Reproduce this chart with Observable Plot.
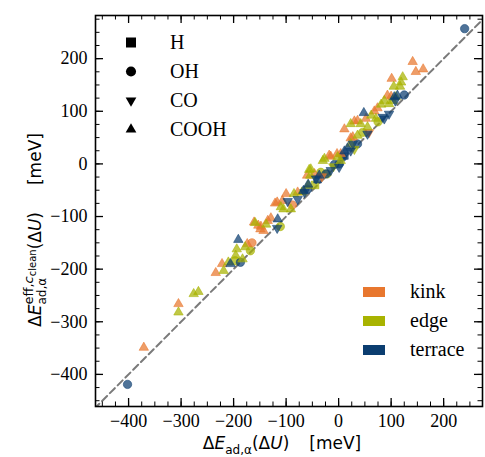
<!DOCTYPE html>
<html><head><meta charset="utf-8">
<script src="https://cdn.jsdelivr.net/npm/d3@7"></script>
<script src="https://cdn.jsdelivr.net/npm/@observablehq/plot@0.6"></script>
<style>body{margin:0;background:#fff}</style>
</head><body><div id="chart"></div>
<script>
// ---- categories ----
const sites = ["kink", "edge", "terrace"];
const adsorbates = ["H", "OH", "CO", "COOH"];

// ---- tick labels ----
const xMajor = [-400, -300, -200, -100, 0, 100, 200];
const yMajor = [-400, -300, -200, -100, 0, 100, 200];
const xMinor = d3.range(-450, 275, 25);
const yMinor = d3.range(-450, 281, 25);
const xDomain = [-463, 274];
const yDomain = [-461, 282];
const diagonal = [-480, 300];

// ---- series values [ΔE_ad(ΔU), ΔE_eff(ΔU)] in meV ----
const kinkCOOH = [[141,194],[147,175],[161,180],[101,162],[100,128],[93,130],[30,81],[11,66],[52,86],[68,100],[74,106],[36,82],[23,49],[27,51],[-15,14],[-18,16],[-3,19],[4,19],[-60,-22],[-46,-19],[-78,-54],[-100,-57],[-107,-70],[-117,-73],[-121,-75],[-129,-103],[-135,-108],[-148,-119],[-143,-127],[-149,-124],[-153,-117],[-161,-111],[-174,-152],[-222,-190],[-234,-207],[-305,-266],[-371,-349]];
const kinkOH = [[-165,-150],[-88,-78]];
const kinkCO = [[-32,-24],[58,60]];
const edgeCOOH = [[122,165],[119,155],[117,147],[105,147],[103,120],[96,114],[109,127],[81,113],[87,120],[62,92],[71,86],[55,70],[42,76],[23,76],[36,54],[23,38],[-2,13],[4,6],[-27,10],[-30,6],[-53,-10],[-56,-11],[-54,-22],[-58,-41],[-70,-54],[-85,-57],[-91,-86],[-105,-86],[-110,-82],[-138,-115],[-159,-112],[-178,-158],[-194,-162],[-196,-174],[-183,-181],[-210,-187],[-219,-203],[-276,-247],[-267,-243],[-305,-282]];
const edgeOH = [[46,60],[-34,-16],[-111,-119],[-168,-165],[-197,-184],[-22,-19],[75,80]];
const edgeCO = [[-10,-5],[30,28]];
const edgeH = [[-45,-40]];
const terraceCOOH = [[48,97],[112,130],[106,127],[-191,-144],[-206,-190],[-67,-51],[-116,-105],[-58,-39],[-37,-22],[17,30],[11,24]];
const terraceCO = [[84,89],[96,95],[108,120],[-97,-71],[-78,-67],[-117,-122],[55,57],[87,86],[-65,-54],[-43,-28],[27,38],[-15,-12],[1,-6],[23,25]];
const terraceOH = [[240,257],[-402,-419],[125,131],[-187,-187],[1,0],[-24,-19],[-59,-48],[36,38],[-8,-1],[8,13]];
const terraceH = [[-40,-29],[11,16]];

const seriesList = [
  ["kink","COOH",kinkCOOH],["kink","OH",kinkOH],["kink","CO",kinkCO],
  ["edge","COOH",edgeCOOH],["edge","OH",edgeOH],["edge","CO",edgeCO],["edge","H",edgeH],
  ["terrace","COOH",terraceCOOH],["terrace","CO",terraceCO],["terrace","OH",terraceOH],["terrace","H",terraceH]
];
const points = [];
for (const [site, ads, arr] of seriesList) for (const [x, y] of arr) points.push({x, y, site, ads});

// ---- styles ----
const siteColors = ["#E8772E", "#A8B300", "#0B3D70"];
const serif = "Times New Roman";
const triangleDown = {
  draw(ctx, size) {
    const s3 = Math.sqrt(3), y = -Math.sqrt(size / (3 * s3));
    ctx.moveTo(0, -2 * y); ctx.lineTo(s3 * y, y); ctx.lineTo(-s3 * y, y); ctx.closePath();
  }
};
const symbolRange = [d3.symbolSquare, d3.symbolCircle, triangleDown, d3.symbolTriangle];
const markerR = {H: 4.3, OH: 4.2, CO: 3.5, COOH: 3.5};
const fmt = d => d < 0 ? "\u2212" + Math.abs(d) : String(d);

const W = 485, H = 457, mT = 15, mR = 3, mB = 51, mL = 95;
const iw = W - mL - mR, ih = H - mT - mB;

const chart = Plot.plot({
  width: W, height: H,
  marginTop: mT, marginRight: mR, marginBottom: mB, marginLeft: mL,
  style: {background: "#fff", color: "#000"},
  x: {domain: xDomain, axis: null},
  y: {domain: yDomain, axis: null},
  r: {type: "identity"},
  color: {domain: sites, range: siteColors},
  symbol: {domain: adsorbates, range: symbolRange},
  marks: [
    Plot.line(diagonal.map(v => ({x: v, y: v})), {x: "x", y: "y", stroke: "#7a7a7a", strokeWidth: 2, strokeDasharray: "7,4", clip: true}),
    Plot.dot(points, {x: "x", y: "y", symbol: "ads", fill: "site", stroke: "site", r: d => markerR[d.ads],
      fillOpacity: 0.72, strokeOpacity: 0.9, strokeWidth: 0.6}),
    Plot.ruleX(xMajor, {insetTop: ih - 8, stroke: "#000", strokeWidth: 1.3}),
    Plot.ruleX(xMajor, {insetBottom: ih - 8, stroke: "#000", strokeWidth: 1.3}),
    Plot.ruleX(xMinor, {insetTop: ih - 4.5, stroke: "#000", strokeWidth: 1}),
    Plot.ruleX(xMinor, {insetBottom: ih - 4.5, stroke: "#000", strokeWidth: 1}),
    Plot.ruleY(yMajor, {insetRight: iw - 8, stroke: "#000", strokeWidth: 1.3}),
    Plot.ruleY(yMajor, {insetLeft: iw - 8, stroke: "#000", strokeWidth: 1.3}),
    Plot.ruleY(yMinor, {insetRight: iw - 4.5, stroke: "#000", strokeWidth: 1}),
    Plot.ruleY(yMinor, {insetLeft: iw - 4.5, stroke: "#000", strokeWidth: 1}),
    Plot.text(xMajor, {x: d => d, frameAnchor: "bottom", dy: 15, text: fmt, fontFamily: serif, fontSize: 18, fill: "#000", lineAnchor: "middle"}),
    Plot.text(yMajor, {y: d => d, frameAnchor: "left", dx: -8, text: fmt, textAnchor: "end", fontFamily: serif, fontSize: 18, fill: "#000"}),
    Plot.frame({stroke: "#000", strokeWidth: 1.6})
  ]
});
document.getElementById("chart").appendChild(chart);

const svg = d3.select(chart);

// ---- legends ----
const legSym = {H: [d3.symbolSquare, 100], OH: [d3.symbolCircle, 80], CO: [triangleDown, 50], COOH: [d3.symbolTriangle, 50]};
adsorbates.forEach((a, i) => {
  const cy = 42.5 + i * 29;
  svg.append("path").attr("transform", `translate(131,${cy})`)
    .attr("d", d3.symbol(legSym[a][0], legSym[a][1])()).attr("fill", "#000");
  svg.append("text").attr("x", 170).attr("y", cy + 6.5).attr("text-anchor", "start")
    .attr("font-family", serif).attr("font-size", 20).attr("fill", "#000").text(a);
});
sites.forEach((s, i) => {
  const cy = 292 + i * 29;
  svg.append("rect").attr("x", 363).attr("y", cy - 5).attr("width", 22).attr("height", 10).attr("fill", siteColors[i]);
  svg.append("text").attr("x", 410).attr("y", cy + 5.5).attr("text-anchor", "start")
    .attr("font-family", serif).attr("font-size", 20).attr("fill", "#000").text(s);
});

// ---- axis labels (math-like) ----
function mathLabel(g, pieces) {
  let x = 0;
  const font = "DejaVu Sans";
  const put = (t, px, py, size, italic) => {
    const el = g.append("text").attr("x", px).attr("y", py).attr("text-anchor", "start").attr("font-family", font)
      .attr("font-size", size).attr("fill", "#000").style("font-style", italic ? "italic" : "normal").text(t);
    return el.node().getComputedTextLength();
  };
  for (const p of pieces) {
    if (p.gap) { x += p.gap; continue; }
    if (p.stack) {
      let w1 = 0;
      for (const s of (p.sup || [])) w1 += put(s.t, x + w1, s.dy, s.size, s.italic);
      const w2 = put(p.sub, x, 4.5, 12, false);
      x += Math.max(w1, w2);
      continue;
    }
    x += put(p.t, x, 0, 17, p.italic);
  }
  return x;
}
const gx = svg.append("g");
const wx = mathLabel(gx, [{t: "\u0394"}, {t: "E", italic: true}, {stack: true, sub: "ad,\u03b1"}, {t: "(\u0394"}, {t: "U", italic: true}, {t: ")"}, {gap: 20}, {t: "[meV]"}]);
gx.attr("transform", `translate(${282 - wx / 2},449)`);

const gyOuter = svg.append("g").attr("transform", "translate(41,230) rotate(-90)");
const gy = gyOuter.append("g");
const wy = mathLabel(gy, [{t: "\u0394"}, {t: "E", italic: true},
  {stack: true, sup: [{t: "eff,", dy: -8, size: 13}, {t: "c", dy: -8, size: 13, italic: true}, {t: "clean", dy: -5, size: 10}], sub: "ad,\u03b1"},
  {t: "(\u0394"}, {t: "U", italic: true}, {t: ")"}, {gap: 27}, {t: "[meV]"}]);
gy.attr("transform", `translate(${-wy / 2},0)`);
</script></body></html>
